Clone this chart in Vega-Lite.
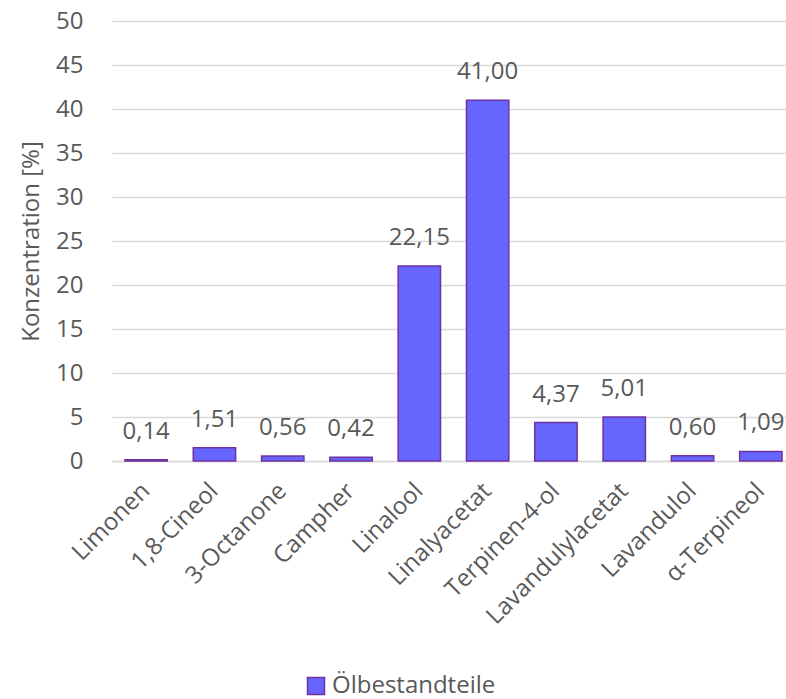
{
  "$schema": "https://vega.github.io/schema/vega-lite/v6.json",
  "width": 674,
  "height": 440,
  "autosize": {"type": "none"},
  "padding": {"left": 112, "top": 21, "right": 0, "bottom": 238},
  "background": "white",
  "config": {
    "locale": {"number": {"decimal": ",", "thousands": ".", "grouping": [3], "currency": ["", " €"]}},
    "font": "Open Sans",
    "view": {"stroke": null}
  },
  "data": {"values": [
    {"name": "Limonen", "value": 0.14},
    {"name": "1,8-Cineol", "value": 1.51},
    {"name": "3-Octanone", "value": 0.56},
    {"name": "Campher", "value": 0.42},
    {"name": "Linalool", "value": 22.15},
    {"name": "Linalyacetat", "value": 41.0},
    {"name": "Terpinen-4-ol", "value": 4.37},
    {"name": "Lavandulylacetat", "value": 5.01},
    {"name": "Lavandulol", "value": 0.6},
    {"name": "α-Terpineol", "value": 1.09}
  ]},
  "encoding": {
    "x": {"field": "name", "type": "nominal", "sort": null,
      "scale": {"paddingInner": 0.38, "paddingOuter": 0.19, "range": [0, 683]},
      "axis": {"title": null, "labelAngle": -45, "labelAlign": "right", "labelBaseline": "middle", "ticks": false, "domainColor": "#D9D9D9", "domainWidth": 1.5, "labelPadding": 26, "labelLimit": 0, "labelFont": "Open Sans", "labelFontSize": 24, "labelColor": "#595959"}},
    "y": {"field": "value", "type": "quantitative",
      "scale": {"domain": [0, 50]},
      "axis": {"title": "Konzentration [%]", "values": [0,5,10,15,20,25,30,35,40,45,50], "domain": false, "ticks": false, "gridColor": "#D9D9D9", "gridWidth": 1.5, "labelPadding": 29, "titlePadding": 12, "labelFont": "Open Sans", "labelFontSize": 24, "labelColor": "#595959", "titleFont": "Open Sans", "titleFontSize": 24, "titleFontWeight": "normal", "titleColor": "#595959"}}
  },
  "layer": [
    {"mark": {"type": "bar", "stroke": "#7030A0", "strokeWidth": 1.5},
     "encoding": {"color": {"datum": "Ölbestandteile", "type": "nominal",
        "scale": {"range": ["#6666FF"]},
        "legend": {"title": null, "orient": "none", "legendX": 192, "legendY": 653, "symbolType": "square", "symbolSize": 289, "symbolStrokeColor": "#7030A0", "symbolStrokeWidth": 1.5, "labelFont": "Open Sans", "labelFontSize": 24, "labelColor": "#595959", "labelOffset": 4, "labelLimit": 0}}}},
    {"mark": {"type": "text", "dy": -28, "fontSize": 24, "color": "#595959", "font": "Open Sans"},
     "encoding": {"text": {"field": "value", "type": "quantitative", "format": ".2f"}}}
  ]
}
